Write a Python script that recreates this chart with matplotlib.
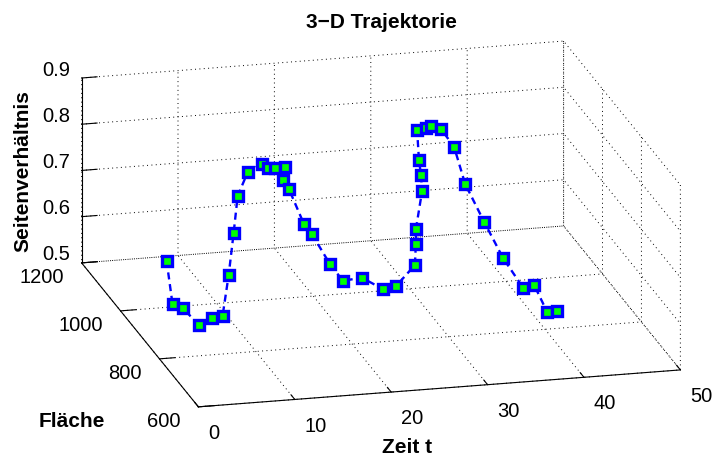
import numpy as np
import matplotlib
matplotlib.use('Agg')
import matplotlib.pyplot as plt
from mpl_toolkits.mplot3d import proj3d

plt.rcParams.update({
    'font.family': ['Liberation Sans', 'DejaVu Sans'],
    'font.size': 14.5,
})

zeit = np.arange(1, 42)
flaeche = [813, 832, 830, 797, 780, 773, 791, 815, 844, 842,
           820, 838, 851, 850, 909, 928, 900, 909, 866, 848,
           800, 742, 724, 676, 721, 770, 788, 843, 903, 962,
           965, 989, 987, 970, 963, 914, 867, 813, 806, 789, 787]
seiten = [0.704, 0.599, 0.590, 0.569, 0.591, 0.597, 0.675, 0.752, 0.815, 0.866,
          0.894, 0.874, 0.866, 0.867, 0.806, 0.776, 0.713, 0.685, 0.641, 0.612,
          0.642, 0.646, 0.660, 0.729, 0.750, 0.755, 0.826, 0.831, 0.830, 0.863,
          0.864, 0.854, 0.847, 0.816, 0.738, 0.679, 0.624, 0.586, 0.594, 0.543, 0.545]

xticks = [0, 10, 20, 30, 40, 50]
yticks = [600, 800, 1000, 1200]
zticks = [0.5, 0.6, 0.7, 0.8, 0.9]

fig = plt.figure(figsize=(7.17, 4.57), dpi=100)
ax = fig.add_axes([0.0312, -0.2748, 0.974, 1.5282], projection='3d', proj_type='ortho')
ax.view_init(elev=17.9, azim=-104)
ax.set_box_aspect((496, 482, 194))

ax.plot(zeit, flaeche, seiten, '--', color='b', lw=1.7, dashes=(3, 2),
        marker='s', ms=7, mfc='#00FF00', mec='b', mew=2.4)

ax.set_xlim(0, 50)
ax.set_ylim(600, 1200)
ax.set_zlim(0.5, 0.9)
ax.set_xticks(xticks)
ax.set_yticks(yticks)
ax.set_zticks(zticks)

for axis in (ax.xaxis, ax.yaxis, ax.zaxis):
    axis.set_tick_params(labelbottom=False)
    axis.pane.fill = False
    axis.pane.set_edgecolor((1, 1, 1, 0))
    axis.line.set_color('k')
    axis.line.set_linewidth(0.8)
    axis._axinfo['tick']['inward_factor'] = 0.0
    axis._axinfo['tick']['outward_factor'] = 0.4
    axis._axinfo['grid'].update(color='k', linewidth=0.7, linestyle=(0, (1, 3.5)))

# ── tick labels placed MATLAB-style next to the tick marks ──
fig.canvas.draw()
M = ax.get_proj()


def label_at(x, y, z, s, **kw):
    x2, y2, _ = proj3d.proj_transform(x, y, z, M)
    ax.text2D(x2, y2, s, transform=ax.transData, **kw)


for v in xticks:
    label_at(v, 600 - 51, 0.5 - 0.031, str(v), ha='left', va='center')
for v in yticks:
    label_at(-1.87, v, 0.5 - 0.028, str(v), ha='right', va='center')
for v in zticks:
    label_at(-1.14, 1200, v + 0.019, f'{v:.1f}', ha='right', va='center')

fig.text(381 / 717, 1 - 28.5 / 457, '3\u2212D Trajektorie', ha='center', va='baseline',
         fontsize=15, fontweight='bold')
fig.text(407 / 717, 4 / 457, 'Zeit t', ha='center', va='baseline',
         fontsize=15, fontweight='bold')
fig.text(72 / 717, 1 - 427 / 457, 'Fläche', ha='center', va='baseline',
         fontsize=15, fontweight='bold')
fig.text(23 / 717, 1 - 171 / 457, 'Seitenverhältnis', ha='center', va='center',
         rotation=90, fontsize=15, fontweight='bold')

fig.savefig('out.png', dpi=100)
